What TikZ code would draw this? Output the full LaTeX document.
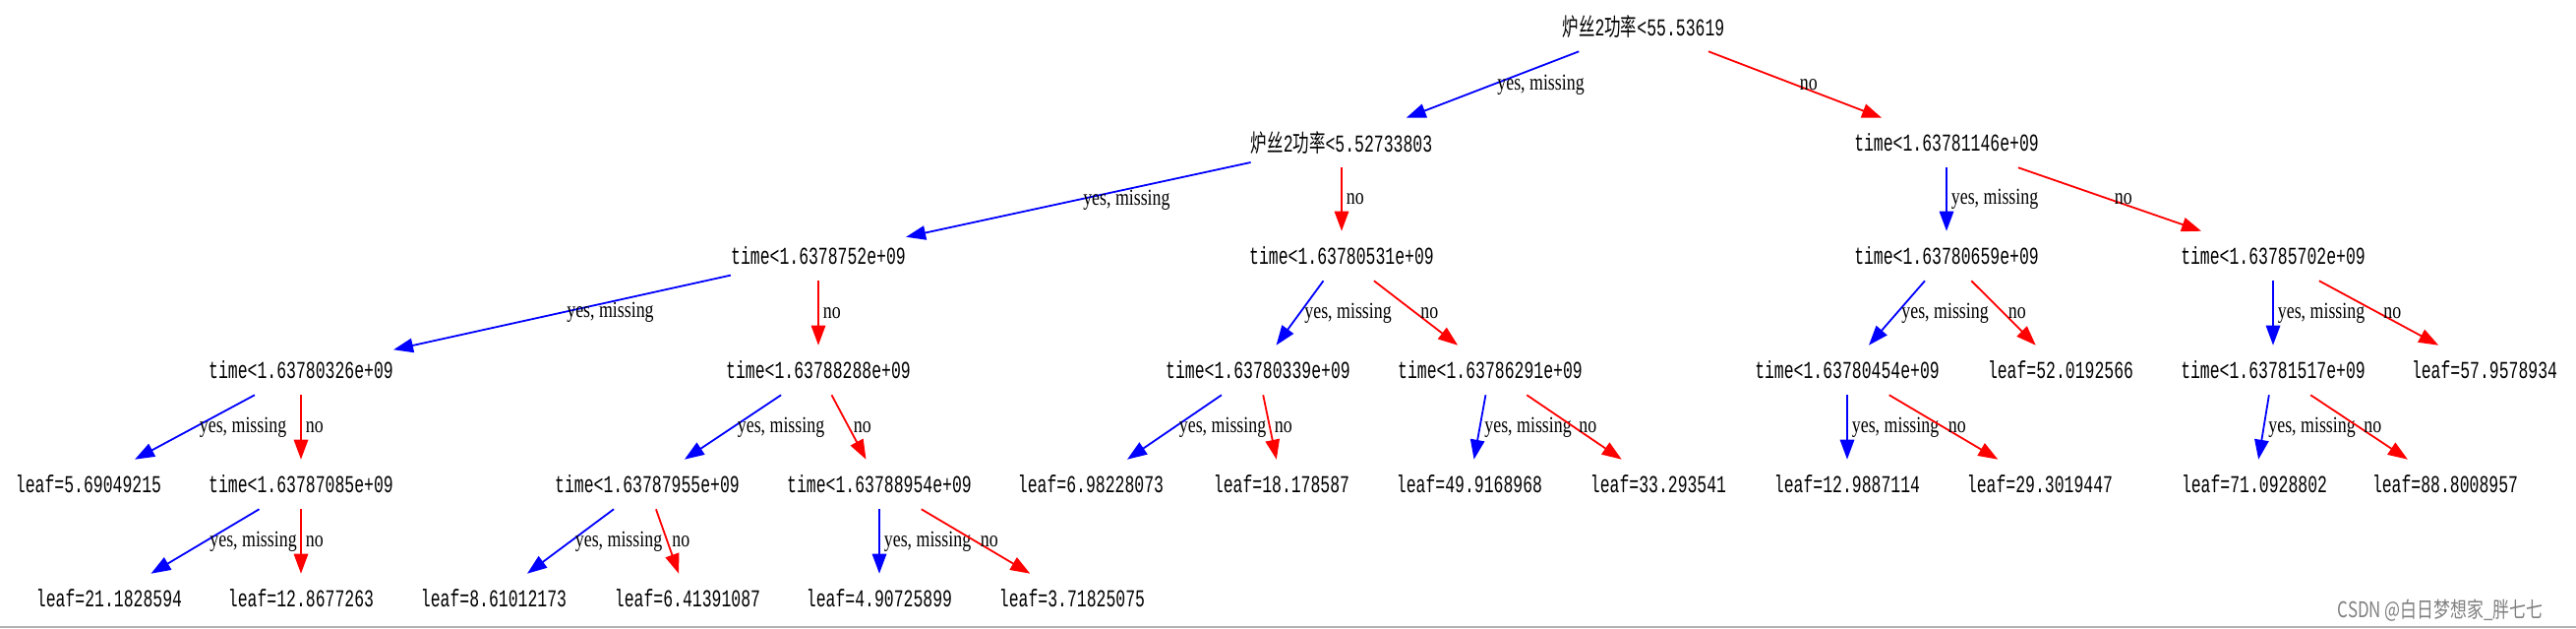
\documentclass[tikz,border=0pt]{standalone}
\usepackage{fontspec}
\setmainfont{Liberation Serif}
\newfontfamily\monof{Liberation Mono}
\newfontfamily\cjk{Noto Sans CJK SC}
\usetikzlibrary{arrows.meta}
\newcommand\tl[1]{\scalebox{1}[1.5]{#1}}
\newcommand\el[1]{\scalebox{1}[1.3]{#1}}
\tikzset{
  tn/.style={minimum height=12.5mm, inner sep=0pt, font=\monof\fontsize{11.7}{12}\selectfont},
  ed/.style={line width=0.45mm, -{Triangle[length=5mm,width=3.6mm]}},
  yes/.style={ed, draw={rgb,255:red,0;green,0;blue,255}},
  nob/.style={ed, draw={rgb,255:red,255;green,0;blue,0}},
  lb/.style={anchor=west, inner sep=1mm, font=\fontsize{12.7}{13}\selectfont},
}
\begin{document}
\begin{tikzpicture}[x=0.25mm,y=-0.25mm]
\useasboundingbox (0,0) rectangle (2619,639);
\fill[white] (0,0) rectangle (2619,639);
\node[tn] (r) at (1671,27) {\tl{{\cjk 炉丝}2{\cjk 功率}<55.53619}};
\node[tn] (a) at (1364,145) {\tl{{\cjk 炉丝}2{\cjk 功率}<5.52733803}};
\node[tn] (b) at (1979,145) {\tl{time<1.63781146e+09}};
\node[tn] (c) at (832,260) {\tl{time<1.6378752e+09}};
\node[tn] (d) at (1364,260) {\tl{time<1.63780531e+09}};
\node[tn] (e) at (1979,260) {\tl{time<1.63780659e+09}};
\node[tn] (f) at (2311,260) {\tl{time<1.63785702e+09}};
\node[tn] (g) at (306,376) {\tl{time<1.63780326e+09}};
\node[tn] (h) at (832,376) {\tl{time<1.63788288e+09}};
\node[tn] (i) at (1279,376) {\tl{time<1.63780339e+09}};
\node[tn] (j) at (1515,376) {\tl{time<1.63786291e+09}};
\node[tn] (k) at (1878,376) {\tl{time<1.63780454e+09}};
\node[tn] (l) at (2095,376) {\tl{leaf=52.0192566}};
\node[tn] (m) at (2311,376) {\tl{time<1.63781517e+09}};
\node[tn] (n) at (2526,376) {\tl{leaf=57.9578934}};
\node[tn] (g1) at (90,492) {\tl{leaf=5.69049215}};
\node[tn] (g2) at (306,492) {\tl{time<1.63787085e+09}};
\node[tn] (h1) at (658,492) {\tl{time<1.63787955e+09}};
\node[tn] (h2) at (894,492) {\tl{time<1.63788954e+09}};
\node[tn] (i1) at (1109,492) {\tl{leaf=6.98228073}};
\node[tn] (i2) at (1303,492) {\tl{leaf=18.178587}};
\node[tn] (j1) at (1494,492) {\tl{leaf=49.9168968}};
\node[tn] (j2) at (1686,492) {\tl{leaf=33.293541}};
\node[tn] (k1) at (1878,492) {\tl{leaf=12.9887114}};
\node[tn] (k2) at (2074,492) {\tl{leaf=29.3019447}};
\node[tn] (m1) at (2292,492) {\tl{leaf=71.0928802}};
\node[tn] (m2) at (2486,492) {\tl{leaf=88.8008957}};
\node[tn] (g21) at (111,608) {\tl{leaf=21.1828594}};
\node[tn] (g22) at (306,608) {\tl{leaf=12.8677263}};
\node[tn] (h11) at (502,608) {\tl{leaf=8.61012173}};
\node[tn] (h12) at (699,608) {\tl{leaf=6.41391087}};
\node[tn] (h21) at (894,608) {\tl{leaf=4.90725899}};
\node[tn] (h22) at (1090,608) {\tl{leaf=3.71825075}};
\foreach \p/\y/\n in {r/a/b, a/c/d, b/e/f, c/g/h, d/i/j, e/k/l, f/m/n, g/g1/g2, h/h1/h2, i/i1/i2, j/j1/j2, k/k1/k2, m/m1/m2, g2/g21/g22, h1/h11/h12, h2/h21/h22}{
  \draw[yes] (\p) -- node[lb]{\el{yes, missing}} (\y);
  \draw[nob] (\p) -- node[lb]{\el{no}} (\n);
}
\draw[gray!60, line width=0.5mm] (0,637) -- (2619,637);
\node[font=\cjk\fontsize{12}{12}\selectfont, text=gray] (wm) at (2481,620) {\scalebox{1}[1.3]{CSDN @白日梦想家\_胖七七}};
\end{tikzpicture}
\end{document}
